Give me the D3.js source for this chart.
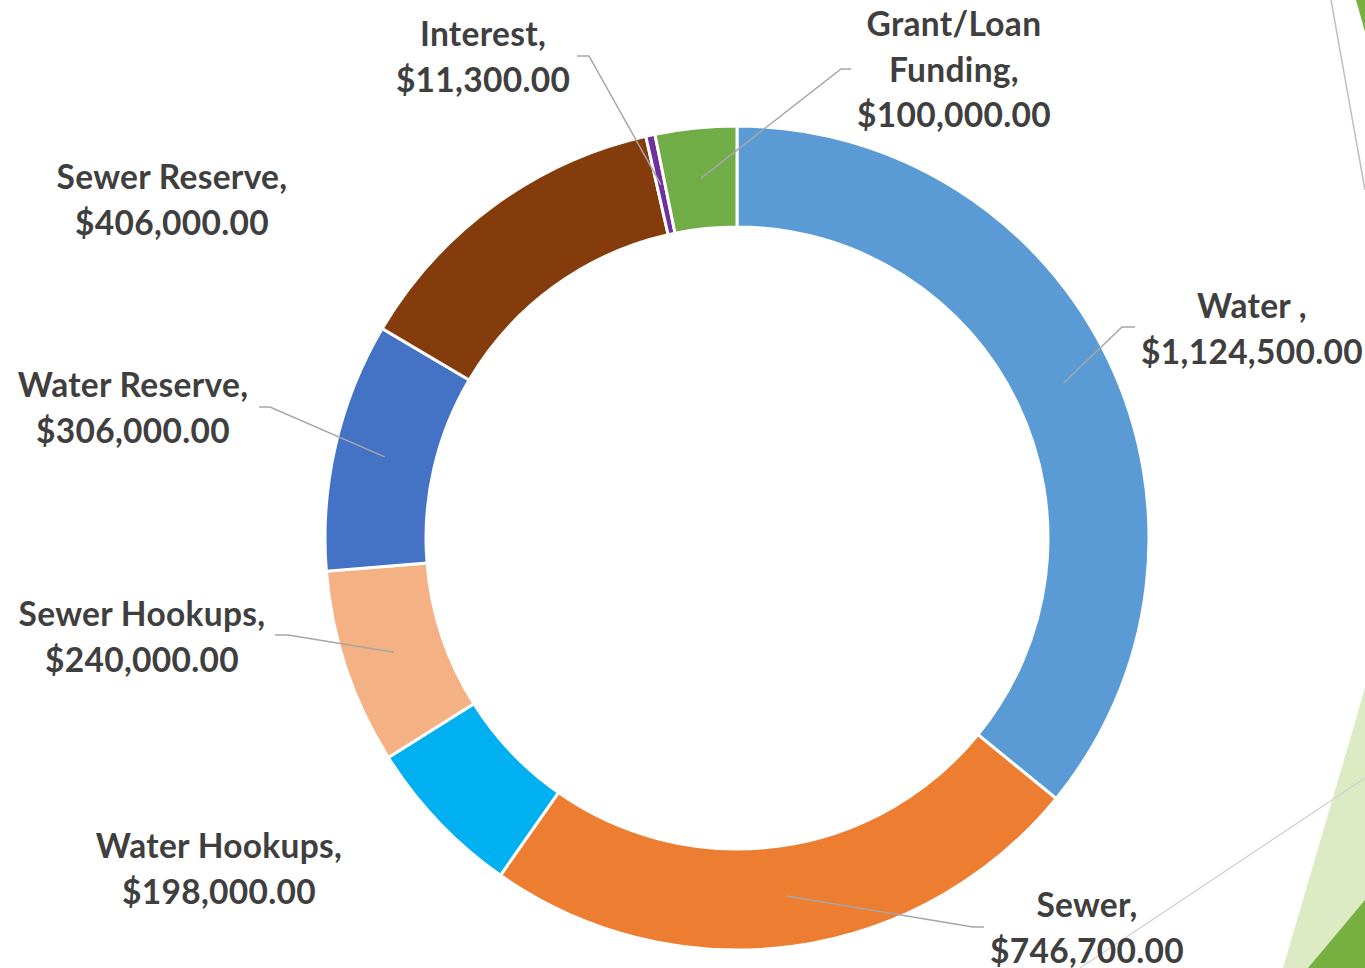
<!DOCTYPE html>
<html>
<head>
<meta charset="utf-8">
<script src="https://cdn.jsdelivr.net/npm/d3@7"></script>
<style>
  html, body { margin: 0; padding: 0; background: #fff; }
  svg { display: block; }
  text { font-family: Lato, "Open Sans", sans-serif; font-weight: 700; }
</style>
</head>
<body>
<svg id="chart" width="1365" height="968"></svg>
<script>
// ---- data ----
const categories = ["Water ", "Sewer", "Water Hookups", "Sewer Hookups", "Water Reserve", "Sewer Reserve", "Interest", "Grant/Loan Funding"];
const values = [1124500, 746700, 198000, 240000, 306000, 406000, 11300, 100000];
const colors = ["#5B9BD5", "#ED7D31", "#00B0F0", "#F4B183", "#4472C4", "#843C0C", "#7030A0", "#70AD47"];
// label text lines (first line(s) = name, last = value)
const labelLines = [
  ["Water ,"],
  ["Sewer,"],
  ["Water Hookups,"],
  ["Sewer Hookups,"],
  ["Water Reserve,"],
  ["Sewer Reserve,"],
  ["Interest,"],
  ["Grant/Loan", "Funding,"]
];

// ---- layout (positions only) ----
const cx = 737, cy = 538, rOuter = 412, rInner = 311;
// label center x and baseline y of first line; leader start & elbow (null = no leader)
const labelLayout = [
  {x: 1252, y: 318, lead: [[1135, 327], [1122, 327]]},
  {x: 1087, y: 917, lead: [[984, 927], [973, 927]]},
  {x: 219, y: 858, lead: null},
  {x: 142, y: 626, lead: [[275, 635], [288, 635]]},
  {x: 133, y: 397, lead: [[259, 407], [270, 407]]},
  {x: 172, y: 189, lead: null},
  {x: 483, y: 46, lead: [[577, 56], [589, 56]]},
  {x: 954, y: 36, lead: [[851, 69], [841, 69]]}
];
const lineH = 45.5;

const fmt = d3.format("$,.2f");
const svg = d3.select("#chart");

// background slide decorations
const deco = svg.append("g");
deco.append("polygon").attr("points", "1365,688 1365,968 1283,968").attr("fill", "#DDEBC4");
deco.append("polygon").attr("points", "1365,900 1365,968 1308,968").attr("fill", "#77B041");
deco.append("polygon").attr("points", "1356,0 1365,0 1365,32").attr("fill", "#77B041");
deco.append("line").attr("x1", 1331).attr("y1", 0).attr("x2", 1365).attr("y2", 190)
  .attr("stroke", "#BFBFBF").attr("stroke-width", 1.5);
deco.append("line").attr("x1", 1365).attr("y1", 778).attr("x2", 1080).attr("y2", 968)
  .attr("stroke", "#D0D0D0").attr("stroke-width", 1.2);

const data = categories.map((c, i) => ({name: c, value: values[i], i}));
const pie = d3.pie().value(d => d.value).sort(null).startAngle(0).endAngle(2 * Math.PI);
const arcs = pie(data);
const arc = d3.arc().innerRadius(rInner).outerRadius(rOuter);
const mid = d3.arc().innerRadius((rInner + rOuter) / 2).outerRadius((rInner + rOuter) / 2);

const g = svg.append("g").attr("transform", `translate(${cx},${cy})`);
g.selectAll("path.slice").data(arcs).enter().append("path")
  .attr("class", "slice")
  .attr("d", arc)
  .attr("fill", d => colors[d.data.i])
  .attr("stroke", "#fff")
  .attr("stroke-width", 3)
  .attr("stroke-linejoin", "miter");

// leader lines
arcs.forEach(a => {
  const L = labelLayout[a.data.i];
  if (!L.lead) return;
  const c = mid.centroid(a);
  const pts = [L.lead[0], L.lead[1], [c[0] + cx, c[1] + cy]];
  svg.append("polyline")
    .attr("points", pts.map(p => p.join(",")).join(" "))
    .attr("fill", "none").attr("stroke", "#A6A6A6").attr("stroke-width", 1.5);
});

// labels
arcs.forEach(a => {
  const i = a.data.i;
  const L = labelLayout[i];
  const lines = labelLines[i].concat([fmt(values[i])]);
  const t = svg.append("text")
    .attr("text-anchor", "middle")
    .attr("fill", "#3F3F3F")
    .attr("font-size", 33.5)
    .attr("letter-spacing", 0.3);
  lines.forEach((s, k) => {
    t.append("tspan").attr("x", L.x).attr("y", L.y + k * lineH).text(s);
  });
});
</script>
</body>
</html>
